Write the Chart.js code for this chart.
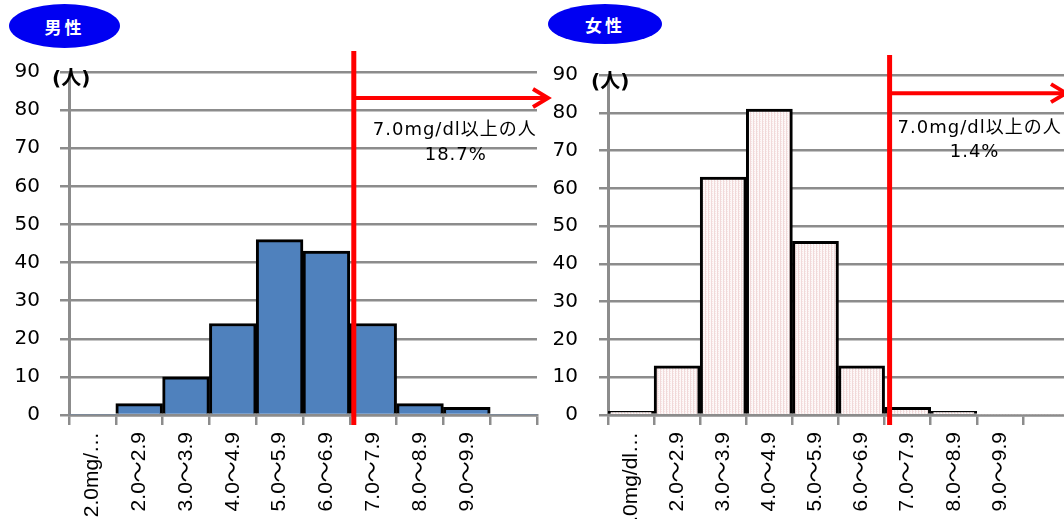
<!DOCTYPE html>
<html>
<head>
<meta charset="utf-8">
<script src="https://cdn.jsdelivr.net/npm/chart.js@4/dist/chart.umd.min.js"></script>
<style>
  html, body { margin: 0; padding: 0; background: #fff; overflow: hidden; }
  .wrap { position: relative; width: 1064px; height: 519px; overflow: hidden; background: #fff; }
  canvas { position: absolute; top: 0; }
  .badge {
    position: absolute; background: #0000f2; color: #fff; border-radius: 50%;
    font: bold 17px "Noto Sans CJK JP", sans-serif; letter-spacing: 3px;
    display: flex; align-items: center; justify-content: center;
  }
</style>
</head>
<body>
<div class="wrap">
  <canvas id="male" width="552" height="519" style="left:0"></canvas>
  <canvas id="female" width="540" height="519" style="left:540px"></canvas>
  <div class="badge" style="left:9px;top:4px;width:111px;height:44px;">男性</div>
  <div class="badge" style="left:548px;top:4px;width:114px;height:40px;">女性</div>
</div>
<script>
// Uric acid bands (mg/dl); the last band carries no label
const maleBands   = ['2.0mg/…', '2.0～2.9', '3.0～3.9', '4.0～4.9', '5.0～5.9', '6.0～6.9', '7.0～7.9', '8.0～8.9', '9.0～9.9', ''];
const femaleBands = ['2.0mg/dl…', '2.0～2.9', '3.0～3.9', '4.0～4.9', '5.0～5.9', '6.0～6.9', '7.0～7.9', '8.0～8.9', '9.0～9.9', ''];

// Number of people per band
const maleCounts   = [0, 3, 10, 24, 46, 43, 24, 3, 2, 0];
const femaleCounts = [1, 13, 63, 81, 46, 13, 2, 1, 0, 0];

// Count axis
const countMin = 0, countMax = 90, countStep = 10;
const countUnit = '(人)';

// Threshold annotation
const thresholdBand = '7.0～7.9';
const thresholdText = '7.0mg/dl以上の人';
const maleShare = '18.7%';
const femaleShare = '1.4%';

const GRID = '#8c8c8c';
const TICK_FONT = '"DejaVu Sans", "Noto Sans CJK JP", sans-serif';
const BAND_FONT = '"Liberation Sans", "Noto Sans CJK JP", sans-serif';
const NOTE_FONT = '"DejaVu Sans", "Noto Sans CJK JP", sans-serif';

// Light pink hatch used for the female bars
function hatchPattern() {
  const c = document.createElement('canvas');
  c.width = 3; c.height = 2;
  const g = c.getContext('2d');
  g.fillStyle = '#fdf8f8'; g.fillRect(0, 0, 3, 2);
  g.fillStyle = '#f1d9d9'; g.fillRect(0, 0, 1, 2);
  g.fillStyle = '#f7e6e6'; g.fillRect(1, 1, 1, 1);
  return g.createPattern(c, 'repeat');
}

// Red boundary line, arrow and share caption; unit caption above the axis
const thresholdMarker = {
  id: 'thresholdMarker',
  afterDatasetsDraw(chart, args, o) {
    const { ctx, chartArea } = chart;
    const xs = chart.scales.x, ys = chart.scales.y;
    const idx = chart.data.labels.indexOf(thresholdBand);
    const x = xs.getPixelForValue(idx - 0.5) + o.nudge;
    ctx.save();
    ctx.strokeStyle = '#ff0000';
    ctx.lineCap = 'butt';
    ctx.lineWidth = 5;
    ctx.beginPath();
    ctx.moveTo(x, ys.getPixelForValue(o.lineTop));
    ctx.lineTo(x, chartArea.bottom + 10);
    ctx.stroke();

    const ay = ys.getPixelForValue(o.arrowLevel);
    const tip = chartArea.right + o.arrowReach;
    ctx.lineWidth = 4;
    ctx.beginPath();
    ctx.moveTo(x, ay);
    ctx.lineTo(tip - 2, ay);
    ctx.stroke();
    ctx.lineJoin = 'miter';
    ctx.beginPath();
    ctx.moveTo(tip - 15, ay - 9);
    ctx.lineTo(tip, ay);
    ctx.lineTo(tip - 15, ay + 9);
    ctx.stroke();

    ctx.fillStyle = '#000';
    ctx.font = '18px ' + NOTE_FONT;
    ctx.letterSpacing = '1px';
    ctx.textAlign = 'center';
    ctx.textBaseline = 'middle';
    ctx.fillText(thresholdText, x + o.textDx, ay + o.line1Dy);
    ctx.fillText(o.share, x + o.textDx2, ay + o.line2Dy);
    ctx.restore();
  },
  afterDraw(chart) {
    const { ctx, chartArea } = chart;
    ctx.save();
    ctx.fillStyle = '#000';
    ctx.font = 'bold 20px ' + TICK_FONT;
    ctx.textAlign = 'left';
    ctx.textBaseline = 'middle';
    ctx.fillText(countUnit, chartArea.left - 17, chartArea.top + 8);
    ctx.restore();
  }
};

function buildChart(id, labels, counts, fill, axisWidth, padRight, padTop, labelGap, note) {
  return new Chart(document.getElementById(id), {
    type: 'bar',
    data: {
      labels: labels,
      datasets: [{
        data: counts,
        backgroundColor: fill,
        borderColor: '#000',
        borderWidth: c => (c.raw === 0 ? 0 : 3),
        borderSkipped: 'start',
        barPercentage: 1,
        categoryPercentage: 1
      }]
    },
    options: {
      responsive: false,
      animation: false,
      devicePixelRatio: 1,
      layout: { padding: { left: 0, right: padRight, top: padTop, bottom: 0 } },
      plugins: {
        legend: { display: false },
        tooltip: { enabled: false },
        thresholdMarker: note
      },
      scales: {
        x: {
          offset: true,
          grid: { display: true, drawOnChartArea: false, drawTicks: true, tickLength: 10, offset: true, color: GRID, lineWidth: 2.5 },
          border: { display: true, color: GRID, width: 2.5 },
          ticks: {
            autoSkip: false, minRotation: 90, maxRotation: 90, padding: 7,
            color: '#000', font: { family: BAND_FONT, size: 21 }
          },
          afterFit: s => { s.height = 104; }
        },
        y: {
          min: countMin, max: countMax,
          grid: { color: GRID, lineWidth: 2.5, tickLength: 9, tickColor: GRID },
          border: { display: true, color: GRID, width: 3 },
          ticks: {
            stepSize: countStep, padding: labelGap, color: '#000',
            font: { family: TICK_FONT, size: 20 }
          },
          afterFit: s => { s.width = axisWidth; }
        }
      }
    },
    plugins: [thresholdMarker]
  });
}

buildChart('male', maleBands, maleCounts, '#4f81bd', 69, 15, 72, 20, {
  nudge: 4, lineTop: 95.5, arrowLevel: 83.2, arrowReach: 11,
  textDx: 101, textDx2: 102, line1Dy: 32, line2Dy: 57, share: maleShare
});

buildChart('female', femaleBands, femaleCounts, hatchPattern(), 68, 11, 75, 21, {
  nudge: 5, lineTop: 95.3, arrowLevel: 85.2, arrowReach: -3,
  textDx: 90, textDx2: 85, line1Dy: 35, line2Dy: 59, share: femaleShare
});
</script>
</body>
</html>
